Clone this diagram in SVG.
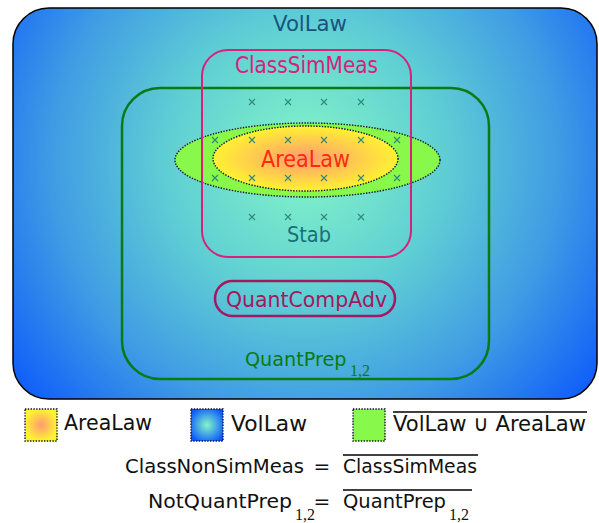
<svg xmlns="http://www.w3.org/2000/svg" width="599" height="523" viewBox="0 0 599 523">
<style>
text{font-family:"DejaVu Sans","Liberation Sans",sans-serif;}
.sub{font-family:"Liberation Serif","DejaVu Serif",serif;font-size:16px;}
.dots{stroke:#101030;stroke-width:1.4;stroke-dasharray:1.4 1.4;}
.xm{stroke:#2f8878;stroke-width:1.1;fill:none;}
.ov{stroke:#000;stroke-width:1.6;}
.lg{font-size:22px;fill:#111;}
.eq{font-size:20px;fill:#111;}
</style>
<defs>
<radialGradient id="volG" gradientUnits="userSpaceOnUse" cx="305" cy="160" r="390">
<stop offset="0" stop-color="#84f6c6"/>
<stop offset="0.35" stop-color="#60cfd4"/>
<stop offset="0.65" stop-color="#3f9ce4"/>
<stop offset="1" stop-color="#0450ff"/>
</radialGradient>
<radialGradient id="areaG" cx="0.5" cy="0.5" r="0.5">
<stop offset="0" stop-color="#ff9a72"/>
<stop offset="1" stop-color="#fff232"/>
</radialGradient>
<radialGradient id="volS" cx="0.5" cy="0.5" r="0.6">
<stop offset="0" stop-color="#84f6c6"/>
<stop offset="1" stop-color="#0a58ff"/>
</radialGradient>
<path id="x" d="M-3,-3L3,3M-3,3L3,-3"/>
</defs>

<g id="VolLaw">
<rect x="13" y="8" width="584" height="391" rx="36" ry="36" fill="url(#volG)" stroke="#000" stroke-width="1.5"/>
<text x="310" y="31" font-size="22" text-anchor="middle" fill="#17557e" textLength="74" lengthAdjust="spacingAndGlyphs">VolLaw</text>
</g>

<g id="QuantPrep">
<rect x="122" y="88" width="367" height="291" rx="38" ry="38" fill="none" stroke="#0b7a12" stroke-width="2.5"/>
<text x="245" y="366" font-size="19.2" fill="#0b7a12">QuantPrep<tspan class="sub" x="350" dy="10">1,2</tspan></text>
</g>

<g id="Complement">
<ellipse cx="307.5" cy="160" rx="132.5" ry="37" fill="#88f84a" class="dots"/>
</g>

<g id="AreaLaw">
<ellipse cx="305.5" cy="158.5" rx="92.5" ry="32.5" fill="url(#areaG)" class="dots"/>
<text x="305.5" y="167" font-size="23" text-anchor="middle" fill="#ff2a10" textLength="89" lengthAdjust="spacingAndGlyphs">AreaLaw</text>
</g>

<g id="ClassSimMeas">
<rect x="202" y="50" width="209" height="207" rx="26" ry="26" fill="none" stroke="#d8217a" stroke-width="2"/>
<text x="306.5" y="73" font-size="22.5" text-anchor="middle" fill="#d8217a" textLength="143" lengthAdjust="spacingAndGlyphs">ClassSimMeas</text>
</g>

<g id="Stab">
<g class="xm">
<use href="#x" x="252" y="102"/><use href="#x" x="288" y="102"/><use href="#x" x="324" y="102"/><use href="#x" x="361" y="102"/>
<use href="#x" x="215" y="140"/><use href="#x" x="252" y="140"/><use href="#x" x="288" y="140"/><use href="#x" x="324" y="140"/><use href="#x" x="361" y="140"/><use href="#x" x="397" y="140"/>
<use href="#x" x="215" y="178"/><use href="#x" x="252" y="178"/><use href="#x" x="288" y="178"/><use href="#x" x="324" y="178"/><use href="#x" x="361" y="178"/><use href="#x" x="397" y="178"/>
<use href="#x" x="252" y="217"/><use href="#x" x="288" y="217"/><use href="#x" x="324" y="217"/><use href="#x" x="361" y="217"/>
</g>
<text x="309" y="242" font-size="22" text-anchor="middle" fill="#17707a" textLength="44" lengthAdjust="spacingAndGlyphs">Stab</text>
</g>

<g id="QuantCompAdv">
<rect x="215" y="281" width="180" height="35" rx="17.5" ry="17.5" fill="none" stroke="#a3185f" stroke-width="2.5"/>
<text x="306.5" y="307" font-size="21" text-anchor="middle" fill="#a3185f" textLength="161" lengthAdjust="spacingAndGlyphs">QuantCompAdv</text>
</g>

<g id="connectors"></g>

<g id="legend">
<g id="legend-arealaw">
<rect x="25" y="409" width="32" height="32" fill="url(#areaG)" class="dots"/>
<text x="64" y="430" class="lg" textLength="88" lengthAdjust="spacingAndGlyphs">AreaLaw</text>
</g>
<g id="legend-vollaw">
<rect x="191" y="409" width="32" height="32" fill="url(#volS)" class="dots"/>
<text x="231" y="431" class="lg" textLength="76" lengthAdjust="spacingAndGlyphs">VolLaw</text>
</g>
<g id="legend-complement">
<rect x="353" y="409" width="32" height="32" fill="#88f84a" class="dots"/>
<line x1="393" y1="412" x2="587" y2="412" class="ov"/>
<text x="393" y="431" class="lg" textLength="193" lengthAdjust="spacingAndGlyphs">VolLaw ∪ AreaLaw</text>
</g>
</g>

<g id="definitions">
<text x="125" y="473" class="eq" textLength="179" lengthAdjust="spacingAndGlyphs">ClassNonSimMeas</text>
<text x="322" y="473" class="eq" text-anchor="middle">=</text>
<line x1="343" y1="455" x2="478" y2="455" class="ov"/>
<text x="343" y="473" class="eq" textLength="134" lengthAdjust="spacingAndGlyphs">ClassSimMeas</text>
<text x="148" y="508" class="eq"><tspan textLength="144" lengthAdjust="spacingAndGlyphs">NotQuantPrep</tspan><tspan class="sub" x="295" dy="12">1,2</tspan></text>
<text x="322" y="508" class="eq" text-anchor="middle">=</text>
<line x1="343" y1="490" x2="472" y2="490" class="ov"/>
<text x="343" y="508" class="eq"><tspan textLength="103" lengthAdjust="spacingAndGlyphs">QuantPrep</tspan><tspan class="sub" x="449" dy="12">1,2</tspan></text>
</g>
</svg>
